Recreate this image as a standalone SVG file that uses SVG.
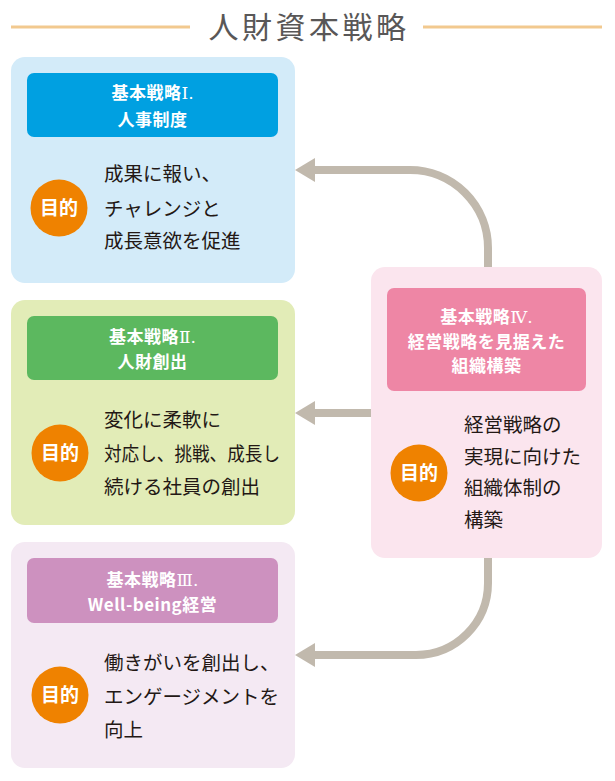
<svg xmlns="http://www.w3.org/2000/svg" width="615" height="781" viewBox="0 0 615 781">
<defs>
<style>
.ttl{font-family:"Noto Sans CJK JP","Noto Sans",sans-serif;font-size:30px;fill:#595757;letter-spacing:3.5px;text-anchor:middle}
.hd{font-family:"Noto Sans CJK JP","Noto Sans",sans-serif;font-size:17px;font-weight:bold;fill:#fff;text-anchor:middle;letter-spacing:0.5px}
.rn{font-family:"DejaVu Serif","Liberation Serif","Noto Sans CJK JP",serif;font-weight:normal;letter-spacing:0}
.bd{font-family:"Noto Sans CJK JP","Noto Sans",sans-serif;font-size:19.5px;fill:#231815}
.mk{font-family:"Noto Sans CJK JP","Noto Sans",sans-serif;font-size:19px;font-weight:bold;fill:#fff;text-anchor:middle}
.circ{fill:#ef8200}
.conn{fill:none;stroke:#c1b9ad;stroke-width:8}
</style>
<marker id="ah" viewBox="0 0 20 24" markerUnits="userSpaceOnUse" markerWidth="20" markerHeight="24" refX="1" refY="12" orient="auto">
<path d="M0,0 L20,12 L0,24 z" fill="#c1b9ad"/>
</marker>
</defs>
<rect width="615" height="781" fill="#fff"/>
<g id="title">
<line x1="11" y1="27" x2="190" y2="27" stroke="#f2c98f" stroke-width="3"/>
<line x1="423" y1="27" x2="602" y2="27" stroke="#f2c98f" stroke-width="3"/>
<text class="ttl" x="309" y="38">人財資本戦略</text>
</g>
<g id="connectors">
<path class="conn" d="M488,267 V248 A78,78 0 0 0 410,170 H314" marker-end="url(#ah)"/>
<path class="conn" d="M371,413 H314" marker-end="url(#ah)"/>
<path class="conn" d="M488,558 V583 A72,72 0 0 1 416,655 H314" marker-end="url(#ah)"/>
</g>
<g id="strategy1">
<rect x="11" y="57" width="284" height="226" rx="14" fill="#d3ebf9"/>
<rect x="27" y="73" width="251" height="64" rx="7" fill="#00a0e1"/>
<text class="hd" x="152.5" y="99">基本戦略<tspan class="rn">Ⅰ.</tspan></text>
<text class="hd" x="152.5" y="126">人事制度</text>
<circle class="circ" cx="59" cy="208" r="28.5"/>
<text class="mk" x="59" y="215">目的</text>
<text class="bd" x="104" y="181">成果に報い、</text>
<text class="bd" x="104" y="216">チャレンジと</text>
<text class="bd" x="104" y="248">成長意欲を促進</text>
</g>
<g id="strategy2">
<rect x="11" y="300" width="284" height="225" rx="14" fill="#e2ecb7"/>
<rect x="27" y="316" width="251" height="64" rx="7" fill="#5cb85f"/>
<text class="hd" x="152.5" y="343">基本戦略<tspan class="rn">Ⅱ.</tspan></text>
<text class="hd" x="152.5" y="368">人財創出</text>
<circle class="circ" cx="60" cy="453" r="28.5"/>
<text class="mk" x="60" y="460">目的</text>
<text class="bd" x="104" y="427">変化に柔軟に</text>
<text class="bd" x="104" y="461" textLength="176" lengthAdjust="spacingAndGlyphs">対応し、挑戦、成長し</text>
<text class="bd" x="104" y="494">続ける社員の創出</text>
</g>
<g id="strategy3">
<rect x="11" y="542" width="284" height="226" rx="14" fill="#f4e9f3"/>
<rect x="27" y="558" width="251" height="65" rx="7" fill="#cd91bf"/>
<text class="hd" x="152.5" y="586">基本戦略<tspan class="rn">Ⅲ.</tspan></text>
<text class="hd" x="152.5" y="611">Well-being経営</text>
<circle class="circ" cx="60" cy="695" r="28.5"/>
<text class="mk" x="60" y="702">目的</text>
<text class="bd" x="104" y="670">働きがいを創出し、</text>
<text class="bd" x="104" y="704">エンゲージメントを</text>
<text class="bd" x="104" y="737">向上</text>
</g>
<g id="strategy4">
<rect x="371" y="267" width="231" height="291" rx="14" fill="#fbe5ee"/>
<rect x="387" y="288" width="199" height="103" rx="7" fill="#ee86a5"/>
<text class="hd" x="486.5" y="323">基本戦略<tspan class="rn">Ⅳ.</tspan></text>
<text class="hd" x="486.5" y="348">経営戦略を見据えた</text>
<text class="hd" x="486.5" y="372">組織構築</text>
<circle class="circ" cx="419" cy="473" r="28.5"/>
<text class="mk" x="419" y="480">目的</text>
<text class="bd" x="464" y="432">経営戦略の</text>
<text class="bd" x="464" y="464">実現に向けた</text>
<text class="bd" x="464" y="495">組織体制の</text>
<text class="bd" x="464" y="527">構築</text>
</g>
</svg>
